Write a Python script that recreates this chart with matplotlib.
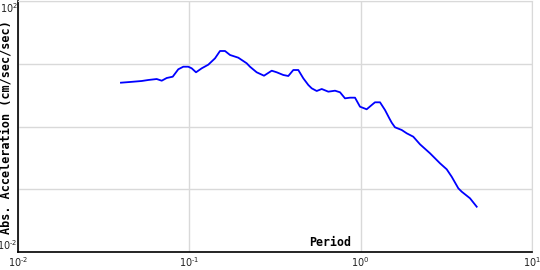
import math
import matplotlib
matplotlib.use("Agg")
import matplotlib.pyplot as plt
from matplotlib.ticker import FixedLocator, FuncFormatter, NullLocator

plt.rcParams["mathtext.fontset"] = "custom"
plt.rcParams["mathtext.rm"] = "Liberation Sans"
plt.rcParams["mathtext.it"] = "Liberation Sans:italic"
plt.rcParams["mathtext.bf"] = "Liberation Sans:bold"
plt.rcParams["mathtext.default"] = "regular"

period = [0.0399, 0.0450, 0.0527, 0.0576, 0.0645, 0.0690, 0.0738, 0.0800, 0.0862, 0.0922,
          0.0986, 0.1032, 0.1094, 0.1181, 0.1290, 0.1412, 0.1510, 0.1615, 0.1728, 0.1931,
          0.2162, 0.2259, 0.2472, 0.2728, 0.3026, 0.3236, 0.3536, 0.3782, 0.4045, 0.4325,
          0.4626, 0.4948, 0.5178, 0.5539, 0.5925, 0.6474, 0.7084, 0.7577, 0.8101, 0.8666,
          0.9268, 0.991, 1.084, 1.16, 1.212, 1.297, 1.387, 1.47, 1.518, 1.586,
          1.736, 1.857, 2.028, 2.220, 2.540, 2.905, 3.178, 3.400, 3.715, 3.889,
          4.346, 4.756]
accel = [4.99, 5.12, 5.31, 5.51, 5.71, 5.37, 5.93, 6.22, 8.16, 8.97,
         8.97, 8.46, 7.31, 8.46, 9.66, 12.2, 15.97, 15.97, 13.79, 12.49,
         10.17, 8.97, 7.31, 6.45, 7.75, 7.31, 6.62, 6.38, 7.95, 7.95,
         5.86, 4.59, 4.06, 3.68, 3.96, 3.59, 3.72, 3.51, 2.81, 2.88,
         2.88, 2.07, 1.88, 2.20, 2.43, 2.43, 1.83, 1.35, 1.15, 0.971,
         0.880, 0.779, 0.688, 0.520, 0.374, 0.259, 0.208, 0.158, 0.1035, 0.0914,
         0.0718, 0.0527]

x_ticks = [0.01, 0.1, 1, 10]
y_ticks = [0.01, 0.1, 1, 10, 100]
y_labeled = [0.01, 100]


def exp_label(v):
    e = round(math.log10(v))
    if e < 0:
        return r"$10^{\text{-}%d}$" % (-e)
    return r"$10^{%d}$" % e


fig = plt.figure(figsize=(5.4, 2.7), dpi=100)
ax = fig.add_axes([18/540, 18/270, (532-18)/540, (269-18)/270])
ax.set_xscale("log")
ax.set_yscale("log")
ax.set_xlim(0.01, 10)
ax.set_ylim(0.01, 100)

ax.plot(period, accel, color="#0000ff", lw=1.3)

ax.xaxis.set_major_locator(FixedLocator(x_ticks))
ax.yaxis.set_major_locator(FixedLocator(y_ticks))
ax.xaxis.set_minor_locator(NullLocator())
ax.yaxis.set_minor_locator(NullLocator())

def yfmt(v, pos):
    if any(abs(v - t) < 1e-9 * t for t in y_labeled):
        return exp_label(v)
    return ""
def xfmt(v, pos):
    return exp_label(v)
ax.yaxis.set_major_formatter(FuncFormatter(yfmt))
ax.xaxis.set_major_formatter(FuncFormatter(xfmt))

ax.tick_params(axis="both", length=0, labelsize=7, pad=0.3, colors="#222222")
ax.tick_params(axis="x", pad=2.5)
ax.grid(True, color="#d9d9d9", lw=1)
ax.set_axisbelow(True)
for s in ["top", "right"]:
    ax.spines[s].set_color("#d9d9d9")
for s in ["left", "bottom"]:
    ax.spines[s].set_color("black")
    ax.spines[s].set_linewidth(1.2)

fig.canvas.draw()
ylabels = ax.get_yticklabels()
ylabels[0].set_verticalalignment("bottom")
ylabels[-1].set_verticalalignment("top")

ax.text(0.6076, 0.024, "Period", transform=ax.transAxes, ha="center", va="baseline",
        family="DejaVu Sans Mono", fontweight="bold", fontsize=8.4)
fig.text(6.5/540, 0.528, "Abs. Acceleration (cm/sec/sec)", rotation=90, ha="center", va="center",
         family="DejaVu Sans Mono", fontweight="bold", fontsize=8.5)

fig.savefig("out.png", dpi=100)
